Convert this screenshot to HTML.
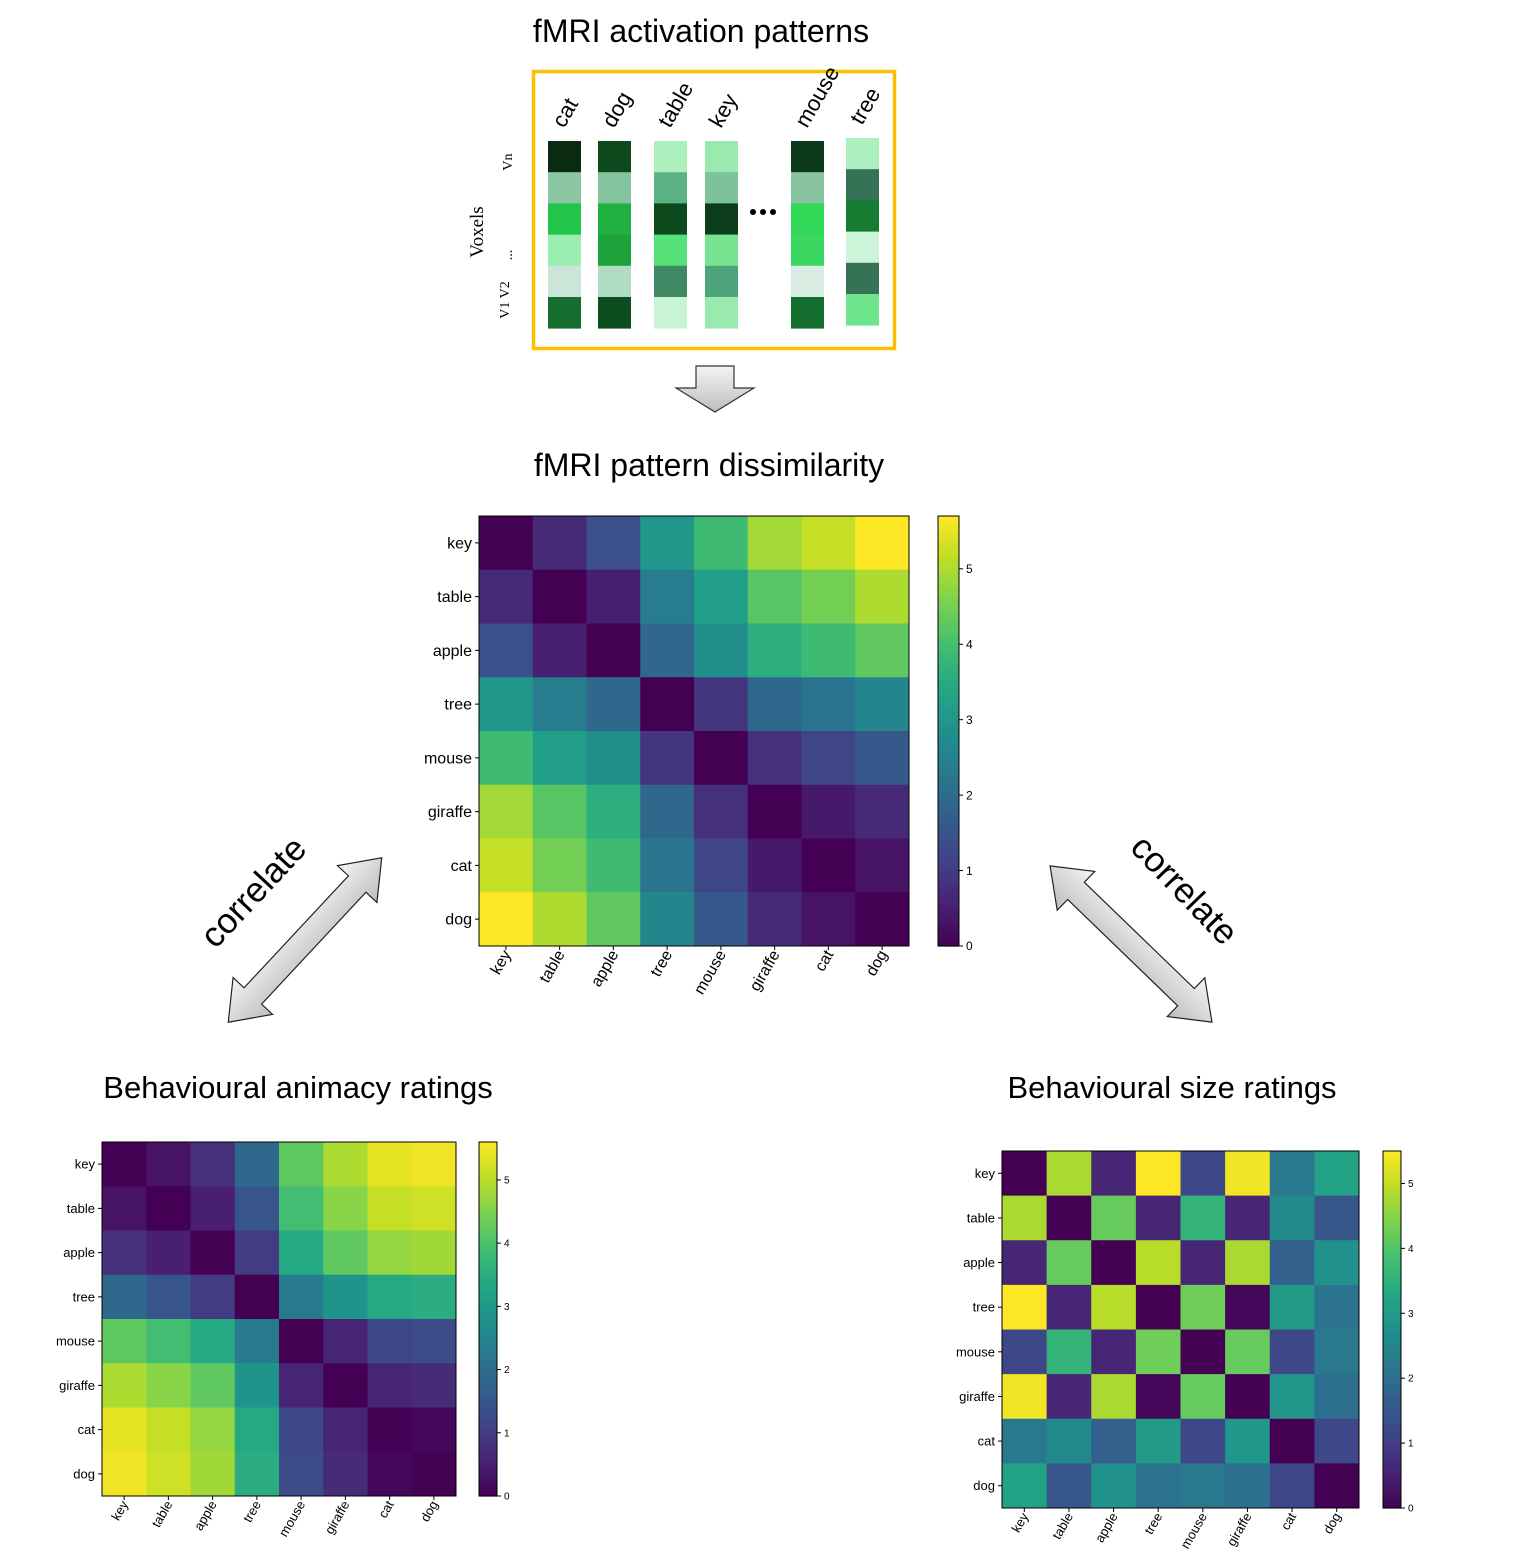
<!DOCTYPE html>
<html><head><meta charset="utf-8">
<style>
body{margin:0;background:#fff;width:1516px;height:1558px;overflow:hidden;font-family:"Liberation Sans",sans-serif}
svg{position:absolute;left:0;top:0}
</style></head>
<body>
<svg id="fig" width="1516" height="1558" xmlns="http://www.w3.org/2000/svg">
<defs>
<linearGradient id="ag" x1="0" y1="0" x2="0" y2="1"><stop offset="0" stop-color="#f4f4f4"/><stop offset="1" stop-color="#bdbdbd"/></linearGradient>
</defs>
<g id="topPanel"></g>
<g id="arrows"></g>
<g id="heat"></g>
</svg>
<script>
const labels = ["key","table","apple","tree","mouse","giraffe","cat","dog"];
const fmriValues = [
[0,0.7,1.4,3.0,3.9,4.9,5.2,5.7],
[0.7,0,0.5,2.4,3.2,4.2,4.5,5.0],
[1.4,0.5,0,1.9,2.8,3.6,3.9,4.3],
[3.0,2.4,1.9,0,0.9,1.9,2.2,2.6],
[3.9,3.2,2.8,0.9,0,0.8,1.2,1.6],
[4.9,4.2,3.6,1.9,0.8,0,0.4,0.7],
[5.2,4.5,3.9,2.2,1.2,0.4,0,0.3],
[5.7,5.0,4.3,2.6,1.6,0.7,0.3,0]];
const animacyValues = [
[0,0.3,0.8,1.9,4.2,4.9,5.4,5.5],
[0.3,0,0.5,1.5,3.9,4.6,5.1,5.2],
[0.8,0.5,0,1.0,3.4,4.2,4.7,4.8],
[1.9,1.5,1.0,0,2.3,2.9,3.4,3.5],
[4.2,3.9,3.4,2.3,0,0.6,1.2,1.3],
[4.9,4.6,4.2,2.9,0.6,0,0.6,0.7],
[5.4,5.1,4.7,3.4,1.2,0.6,0,0.1],
[5.5,5.2,4.8,3.5,1.3,0.7,0.1,0]];
const sizeValues = [
[0,4.8,0.6,5.5,1.2,5.4,2.2,3.2],
[4.8,0,4.2,0.6,3.6,0.6,2.6,1.5],
[0.6,4.2,0,4.9,0.6,4.8,1.7,2.8],
[5.5,0.6,4.9,0,4.3,0.1,3.0,2.1],
[1.2,3.6,0.6,4.3,0,4.2,1.2,2.2],
[5.4,0.6,4.8,0.1,4.2,0,2.9,2.0],
[2.2,2.6,1.7,3.0,1.2,2.9,0,1.2],
[3.2,1.5,2.8,2.1,2.2,2.0,1.2,0]];
const cbTicks = [0,1,2,3,4,5];
const patternWords = ["cat","dog","table","key","mouse","tree"];
const patternColors = [
["#0a2a12","#8ac6a2","#22c44a","#9aeeb0","#cbe6d9","#166e2e"],
["#0c4a1e","#84c49e","#20b040","#1ea33c","#b0dcc4","#0e4d1f"],
["#abf0bd","#5cb284","#0c4a1e","#55e078","#3f8a64","#c9f4d4"],
["#9aeab0","#7cc29a","#0b3d1a","#78e492","#4da37a","#9aeab0"],
["#0c3a18","#88c4a0","#32d858","#3ad860","#d8ece2","#146e2e"],
["#acf0c0","#357256","#167c32","#ccf4d8","#357256","#6ee48c"]];

const NS="http://www.w3.org/2000/svg";
function mk(tag,attrs,parent){const e=document.createElementNS(NS,tag);for(const k in attrs)e.setAttribute(k,attrs[k]);parent.appendChild(e);return e;}
const fig=document.getElementById('fig');

const vir=[[68,1,84],[72,35,116],[64,67,135],[52,94,141],[41,120,142],[32,144,140],[34,167,132],[68,190,112],[121,209,81],[189,222,38],[253,231,37]];
function viridis(t){t=Math.max(0,Math.min(1,t));const p=t*(vir.length-1);const i=Math.min(vir.length-2,Math.floor(p));const f=p-i;const a=vir[i],b=vir[i+1];return `rgb(${Math.round(a[0]+(b[0]-a[0])*f)},${Math.round(a[1]+(b[1]-a[1])*f)},${Math.round(a[2]+(b[2]-a[2])*f)})`;}

function title(txt,x,y,size,name){const t=mk('text',{x:x,y:y,'font-size':size,'text-anchor':'middle',fill:'#000'},fig);t.textContent=txt;

}
title("fMRI activation patterns",701,42,32,'top-title');
title("fMRI pattern dissimilarity",709,476,32,'rdm-title');
title("Behavioural animacy ratings",298,1098,31,'animacy-title');
title("Behavioural size ratings",1172,1098,31,'size-title');

const topG=document.getElementById('topPanel');
const box=mk('rect',{x:533.5,y:71.5,width:361,height:277,fill:'none',stroke:'#fcc000','stroke-width':3.5},topG);


const colX=[548,598,654,705,791,846];
const colY=[141,141,141,141,141,138];
for(let c=0;c<patternWords.length;c++){
  const g=mk('g',{},topG);
  
  
  for(let r=0;r<6;r++){
    const cell=mk('rect',{x:colX[c],y:colY[c]+r*31.2,width:33,height:31.6,fill:patternColors[c][r]},g);
    
    
  }
  const lx=colX[c]+16, ly=colY[c]-12;
  const t=mk('text',{x:lx,y:ly,'font-size':22,transform:`rotate(-60 ${lx} ${ly})`},g);
  t.textContent=patternWords[c];
  
  
}
for(let i=0;i<3;i++){const d=mk('circle',{cx:753+i*10,cy:212,r:3,fill:'#000'},topG);}
[["Voxels",483,232,19],["Vn",512,162,14],["...",512,255,14],["V1  V2",509,300,14]].forEach(([s,x,y,fs])=>{
  const t=mk('text',{x:x,y:y,'font-size':fs,'font-family':'Liberation Serif, serif','text-anchor':'middle',transform:`rotate(-90 ${x} ${y})`},topG);
  t.textContent=s;
  
  
});

const ar=document.getElementById('arrows');
const down=mk('polygon',{points:"696,366 734,366 734,388 754,388 715,412 676,388 696,388",fill:'url(#ag)',stroke:'#333','stroke-width':1.2},ar);


function dbl(cx,cy,L,ang,name){
  const h=L/2,hl=36,sw=12,hw=27;
  const pts=[[-h,0],[-h+hl,-hw],[-h+hl,-sw],[h-hl,-sw],[h-hl,-hw],[h,0],[h-hl,hw],[h-hl,sw],[-h+hl,sw],[-h+hl,hw]].map(p=>p.join(',')).join(' ');
  const p=mk('polygon',{points:pts,fill:'url(#ag)',stroke:'#222','stroke-width':1.2,transform:`translate(${cx},${cy}) rotate(${ang})`},ar);
  
  
}
dbl(305,940,225,-47,'correlate-arrow-left');
dbl(1131,944,225,44,'correlate-arrow-right');
[["correlate",262,900,-47,'correlate-text-left'],["correlate",1176,898,46,'correlate-text-right']].forEach(([s,x,y,a,n])=>{
  const t=mk('text',{x:x,y:y,'font-size':35,'text-anchor':'middle',transform:`rotate(${a} ${x} ${y})`},ar);
  t.textContent=s;
  
  
});

const heat=document.getElementById('heat');
function heatmap(vals,x0,y0,size,vmax,cbx,cbw,fs,cfs,name){
  const g=mk('g',{},heat);
  
  
  const n=labels.length, cs=size/n;
  const sx=i=>x0+i*cs, sy=i=>y0+i*cs, col=v=>viridis(v/vmax);
  for(let r=0;r<n;r++)for(let c=0;c<n;c++){
    const cell=mk('rect',{x:sx(c),y:sy(r),width:cs+0.5,height:cs+0.5,fill:col(vals[r][c])},g);
    
    
  }
  mk('rect',{x:x0,y:y0,width:size,height:size,fill:'none',stroke:'#000','stroke-width':1},g);
  for(let i=0;i<n;i++){
    const ty=sy(i)+cs/2, tx=sx(i)+cs/2;
    mk('line',{x1:x0-4,y1:ty,x2:x0,y2:ty,stroke:'#000'},g);
    const yl=mk('text',{x:x0-7,y:ty+fs*0.35,'font-size':fs,'text-anchor':'end'},g);
    yl.textContent=labels[i];
    
    
    mk('line',{x1:tx,y1:y0+size,x2:tx,y2:y0+size+4,stroke:'#000'},g);
    const ax=tx+fs*0.35, ay=y0+size+8;
    const xl=mk('text',{x:ax,y:ay,'font-size':fs,'text-anchor':'end',transform:`rotate(-60 ${ax} ${ay})`},g);
    xl.textContent=labels[i];
    
    
  }
  const cb=mk('g',{},g);
  
  
  const steps=100;
  for(let i=0;i<steps;i++){
    const v=vmax*i/steps; const yy=y0+size-size*(i+1)/steps;
    mk('rect',{x:cbx,y:yy,width:cbw,height:size/steps+0.6,fill:col(v+vmax/steps/2)},cb);
  }
  mk('rect',{x:cbx,y:y0,width:cbw,height:size,fill:'none',stroke:'#000','stroke-width':1},cb);
  cbTicks.forEach(t=>{
    const yy=y0+size-size*t/vmax;
    mk('line',{x1:cbx+cbw,y1:yy,x2:cbx+cbw+4,y2:yy,stroke:'#000'},cb);
    const tl=mk('text',{x:cbx+cbw+7,y:yy+cfs*0.35,'font-size':cfs},cb);
    tl.textContent=t;
    
    
  });
}
heatmap(fmriValues,479,516,430,5.7,938,21,16,12,'fmri-rdm');
heatmap(animacyValues,102,1142,354,5.6,479,18,13,10,'animacy-rdm');
heatmap(sizeValues,1002,1151,357,5.5,1383,18,13,10,'size-rdm');
</script>
</body></html>
